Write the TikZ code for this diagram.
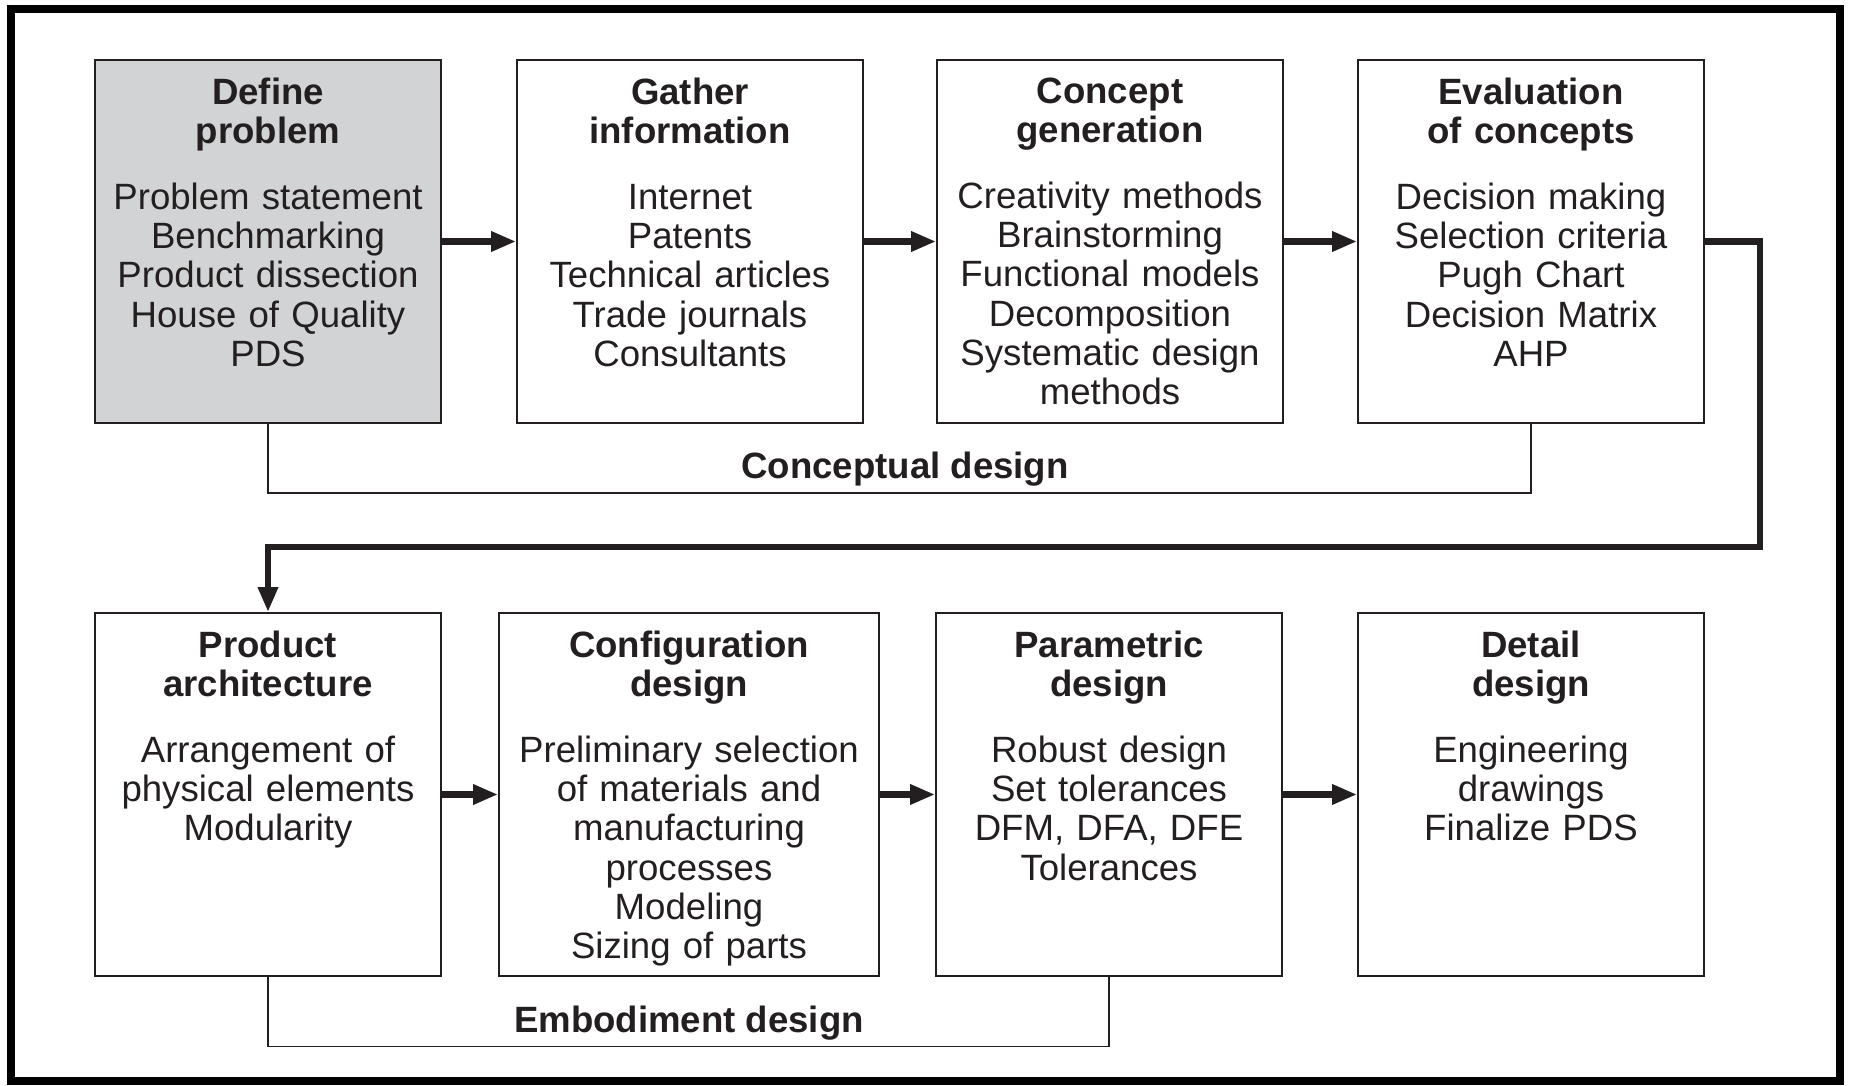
\documentclass[tikz,border=0pt]{standalone}
\usepackage{fontspec}
\setmainfont{Liberation Sans}
\usetikzlibrary{arrows.meta,positioning}
\definecolor{ink}{RGB}{35,31,32}
\definecolor{shade}{RGB}{209,211,212}
\begin{document}
\begin{tikzpicture}[x=0.5pt,y=-0.5pt,font=\fontsize{18.3pt}{19.6pt}\selectfont,every node/.style={draw=ink,line width=0.9pt,text=ink},every text node part/.style={align=center},
	stage/.style={minimum width=173pt,minimum height=181.5pt,inner sep=0pt},
	txt/.style={draw=none,inner sep=0pt,text width=200pt},
	link/.style={draw=ink,line width=0.9pt},
	flow/.style={draw=ink,line width=3.3pt,-{Triangle[length=12.5pt,width=9.5pt]}}]
	\fill[white] (0,0) rectangle (1849,1085);
	\draw[black,line width=4.2pt] (11,9) rectangle (1840,1081);

	\node (define) at (268,241.5) [stage,fill=shade] {};
	\node (gather) at (690,241.5) [stage] {};
	\node (concept) at (1110,241.5) [stage] {};
	\node (evaluation) at (1531,241.5) [stage] {};
	\node (architecture) at (268,794.5) [stage] {};
	\node (configuration) at (689,794.5) [stage,minimum width=190pt] {};
	\node (parametric) at (1109,794.5) [stage] {};
	\node (detail) at (1531,794.5) [stage] {};

	\node (defineTxt) [txt,below=8.8pt of define.north] {{\bfseries Define\\problem}\\[13.5pt]Problem statement\\Benchmarking\\Product dissection\\House of Quality\\PDS};
	\node (gatherTxt) [txt,below=8.8pt of gather.north] {{\bfseries Gather\\information}\\[13.5pt]Internet\\Patents\\Technical articles\\Trade journals\\Consultants};
	\node (conceptTxt) [txt,below=8.8pt of concept.north] {{\bfseries Concept\\generation}\\[13.5pt]Creativity methods\\Brainstorming\\Functional models\\Decomposition\\Systematic design\\methods};
	\node (evaluationTxt) [txt,below=8.8pt of evaluation.north] {{\bfseries Evaluation\\of concepts}\\[13.5pt]Decision making\\Selection criteria\\Pugh Chart\\Decision Matrix\\AHP};
	\node (architectureTxt) [txt,below=8.8pt of architecture.north] {{\bfseries Product\\architecture}\\[13.5pt]Arrangement of\\physical elements\\Modularity};
	\node (configurationTxt) [txt,below=8.8pt of configuration.north] {{\bfseries Configuration\\design}\\[13.5pt]Preliminary selection\\of materials and\\manufacturing\\processes\\Modeling\\Sizing of parts};
	\node (parametricTxt) [txt,below=8.8pt of parametric.north] {{\bfseries Parametric\\design}\\[13.5pt]Robust design\\Set tolerances\\DFM, DFA, DFE\\Tolerances};
	\node (detailTxt) [txt,below=8.8pt of detail.north] {{\bfseries Detail\\design}\\[13.5pt]Engineering\\drawings\\Finalize PDS};

	\draw[flow] (define) -- (gather);
	\draw[flow] (gather) -- (concept);
	\draw[flow] (concept) -- (evaluation);
	\draw[flow] (architecture) -- (configuration);
	\draw[flow] (configuration) -- (parametric);
	\draw[flow] (parametric) -- (detail);

	\coordinate (turn) at (1760,547);
	\draw[flow] (evaluation) -| (turn) -| (architecture);

	\coordinate (conceptBar) at (900,493);
	\coordinate (embodimentBar) at (690,1046.5);
	\draw[link] (define) |- (conceptBar) -| (evaluation);
	\draw[link] (architecture) |- (embodimentBar) -| (parametric);

	\node (conceptual) at (905,479) [draw=none,anchor=base] {\bfseries Conceptual design};
	\node (embodiment) at (689,1032) [draw=none,anchor=base] {\bfseries Embodiment design};
\end{tikzpicture}
\end{document}
